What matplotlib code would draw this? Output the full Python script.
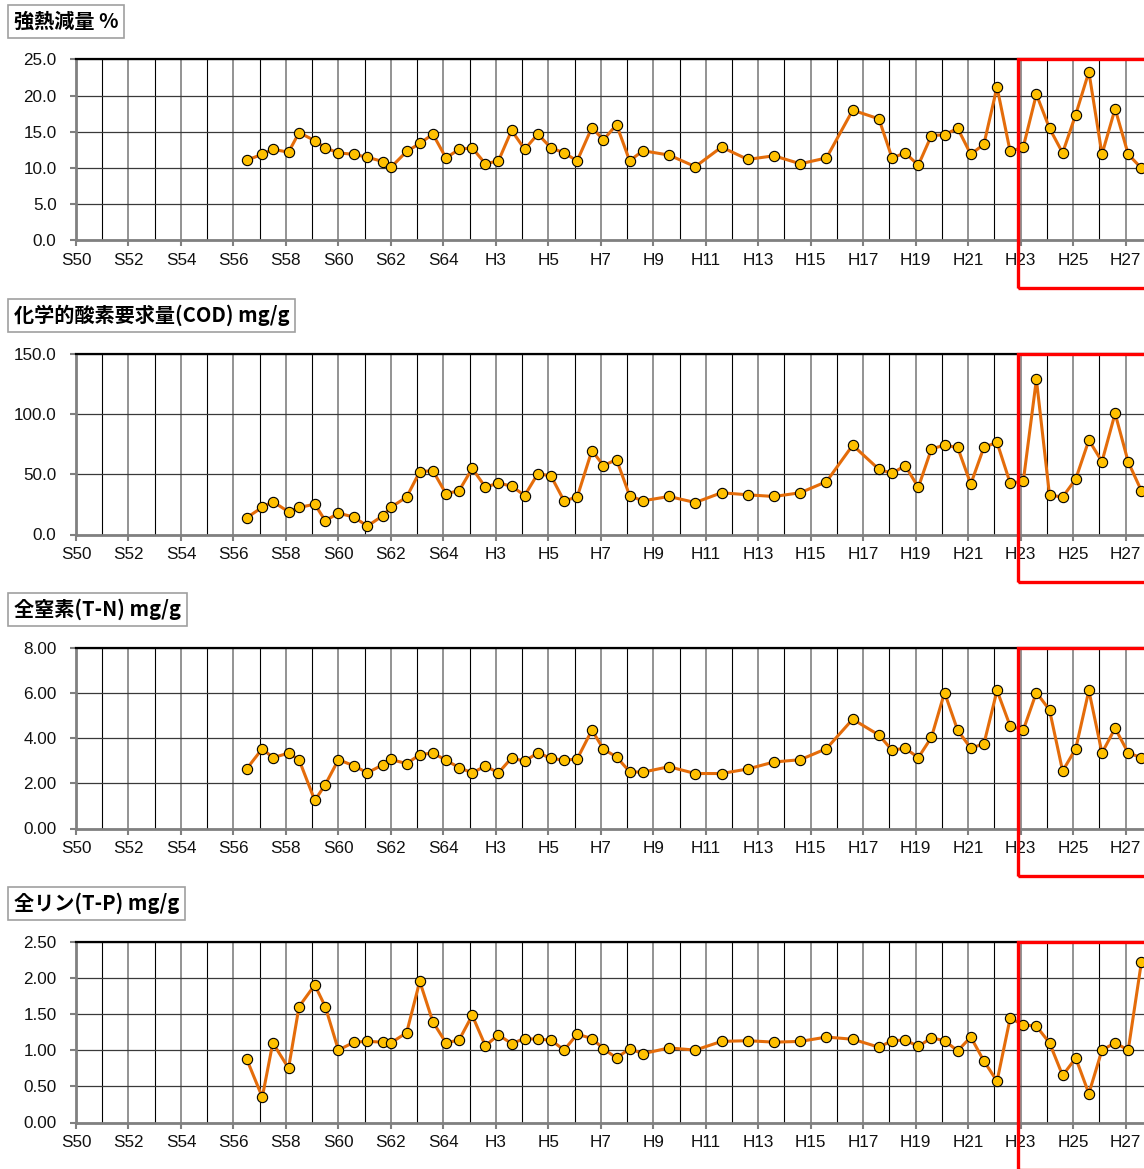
import matplotlib
matplotlib.use('Agg')
import matplotlib.pyplot as plt
import matplotlib.transforms as mtransforms
from matplotlib.patches import Rectangle
from matplotlib.ticker import MultipleLocator, FormatStrFormatter

plt.rcParams['font.family'] = ['Liberation Sans', 'DejaVu Sans']

# sampling time in years counted from S50 (1975)
years = [6.5, 7.1, 7.5, 8.1, 8.5, 9.1, 9.5, 10.0, 10.6, 11.1, 11.7, 12.0,
         12.6, 13.1, 13.6, 14.1, 14.6, 15.1, 15.6, 16.1, 16.6, 17.1, 17.6,
         18.1, 18.6, 19.1, 19.66, 20.1, 20.6, 21.1, 21.6, 22.6, 23.6, 24.6,
         25.6, 26.6, 27.6, 28.6, 29.6, 30.6, 31.1, 31.6, 32.1, 32.6, 33.1,
         33.6, 34.1, 34.6, 35.1, 35.6, 36.1, 36.6, 37.1, 37.6, 38.1, 38.6,
         39.1, 39.6, 40.1, 40.6]

ignition_loss = [11.1, 11.9, 12.6, 12.2, 14.9, 13.8, 12.8, 12.1, 11.9, 11.5,
                 10.9, 10.1, 12.3, 13.4, 14.7, 11.4, 12.6, 12.8, 10.6, 11.0,
                 15.2, 12.6, 14.7, 12.8, 12.1, 11.0, 15.6, 13.9, 16.0, 11.0,
                 12.4, 11.8, 10.2, 12.9, 11.2, 11.7, 10.6, 11.4, 18.0, 16.8,
                 11.4, 12.1, 10.4, 14.5, 14.6, 15.5, 11.9, 13.3, 21.2, 12.3,
                 12.9, 20.2, 15.5, 12.1, 17.4, 23.3, 11.9, 18.2, 11.9, 10.0]

cod = [13.8, 22.6, 27.3, 18.8, 22.4, 25.1, 11.4, 17.7, 14.4, 6.9,
       15.7, 22.6, 31.0, 52.1, 52.9, 33.8, 36.3, 54.8, 39.3, 42.6,
       40.1, 32.3, 50.4, 48.5, 27.9, 31.0, 69.6, 57.1, 62.1, 32.1,
       27.9, 31.5, 26.5, 34.6, 32.9, 31.5, 34.6, 43.8, 74.0, 54.0,
       50.7, 57.1, 39.0, 71.0, 74.0, 72.1, 41.8, 72.3, 76.3, 42.7,
       44.0, 128.5, 32.7, 31.0, 46.0, 78.2, 60.4, 100.4, 60.1, 36.3]

total_n = [2.63, 3.53, 3.13, 3.33, 3.04, 1.24, 1.94, 3.04, 2.77, 2.46,
           2.82, 3.05, 2.87, 3.26, 3.34, 3.02, 2.69, 2.46, 2.76, 2.46,
           3.12, 2.97, 3.35, 3.10, 3.02, 3.07, 4.35, 3.51, 3.16, 2.51,
           2.49, 2.73, 2.43, 2.43, 2.63, 2.94, 3.04, 3.53, 4.83, 4.13,
           3.46, 3.55, 3.13, 4.03, 6.01, 4.34, 3.55, 3.74, 6.10, 4.53,
           4.35, 6.01, 5.24, 2.54, 3.53, 6.10, 3.34, 4.43, 3.34, 3.13]

total_p = [0.88, 0.35, 1.10, 0.75, 1.60, 1.90, 1.60, 1.00, 1.11, 1.12,
           1.11, 1.10, 1.24, 1.95, 1.39, 1.10, 1.14, 1.48, 1.06, 1.21,
           1.09, 1.16, 1.15, 1.14, 1.00, 1.22, 1.16, 1.02, 0.89, 1.02,
           0.95, 1.03, 1.00, 1.12, 1.13, 1.11, 1.12, 1.18, 1.15, 1.04,
           1.13, 1.14, 1.05, 1.17, 1.13, 0.99, 1.18, 0.85, 0.57, 1.44,
           1.35, 1.33, 1.10, 0.65, 0.89, 0.40, 1.00, 1.10, 1.00, 2.21]

tick_labels = ['S50', 'S52', 'S54', 'S56', 'S58', 'S60', 'S62', 'S64',
               'H3', 'H5', 'H7', 'H9', 'H11', 'H13', 'H15', 'H17', 'H19',
               'H21', 'H23', 'H25', 'H27']

titles = ['強熱減量 %', '化学的酸素要求量(COD) mg/g', '全窒素(T-N) mg/g', '全リン(T-P) mg/g']
series = [ignition_loss, cod, total_n, total_p]
ymax = [25, 150, 8, 2.5]
ystep = [5, 50, 2, 0.5]
yfmt = ['%.1f', '%.1f', '%.2f', '%.2f']

highlight_start = 35.91  # just before H23

W, H = 1144, 1169
fig = plt.figure(figsize=(W / 100, H / 100), dpi=100)

for i in range(4):
    top = 59.5 + i * 294
    ax = fig.add_axes([76 / W, 1 - (top + 181) / H, 1 - 76 / W, 181 / H])

    ax.plot(years, series[i], '-o', color='#E46C0A', lw=2.2, ms=7.4,
            mfc='#FFC000', mec='black', mew=0.8, zorder=5)

    ax.set_xlim(0, 1068 / 26.24)
    ax.set_ylim(0, ymax[i])
    ax.set_xticks(range(0, 42, 2))
    ax.set_xticklabels(tick_labels)
    ax.set_xticks(range(1, 41, 2), minor=True)
    ax.yaxis.set_major_locator(MultipleLocator(ystep[i]))
    ax.yaxis.set_major_formatter(FormatStrFormatter(yfmt[i]))

    ax.set_axisbelow(True)
    ax.grid(which='major', axis='x', color='#808080', lw=1.2)
    ax.grid(which='minor', axis='x', color='black', lw=0.8)
    ax.grid(which='major', axis='y', color='#3a3a3a', lw=0.9)

    ax.tick_params(which='minor', length=0)
    ax.tick_params(which='major', direction='out', length=4, width=1.5,
                   color='#808080', labelsize=12.3, labelcolor='#111111')
    ax.tick_params(axis='x', pad=5)
    ax.tick_params(axis='y', pad=10)

    ax.spines['right'].set_visible(False)
    ax.spines['top'].set_color('black')
    ax.spines['top'].set_linewidth(1.6)
    for s in ['left', 'bottom']:
        ax.spines[s].set_color('#808080')
        ax.spines[s].set_linewidth(2)

    ax.annotate(titles[i], xy=(0, 1), xycoords='axes fraction',
                xytext=(-62, 38), textcoords='offset pixels',
                ha='left', va='center', fontsize=14.5, fontweight='bold',
                family=['Noto Sans CJK JP', 'DejaVu Sans'],
                bbox=dict(boxstyle='square,pad=0.28', fc='white', ec='#a0a0a0', lw=1.2),
                annotation_clip=False)

    trans = mtransforms.blended_transform_factory(ax.transData, ax.transAxes)
    ax.add_patch(Rectangle((highlight_start, -0.262), 10, 1.262, transform=trans,
                           fill=False, ec='#FF0000', lw=2.4, clip_on=False, zorder=10))

fig.savefig('out.png', dpi=100)
